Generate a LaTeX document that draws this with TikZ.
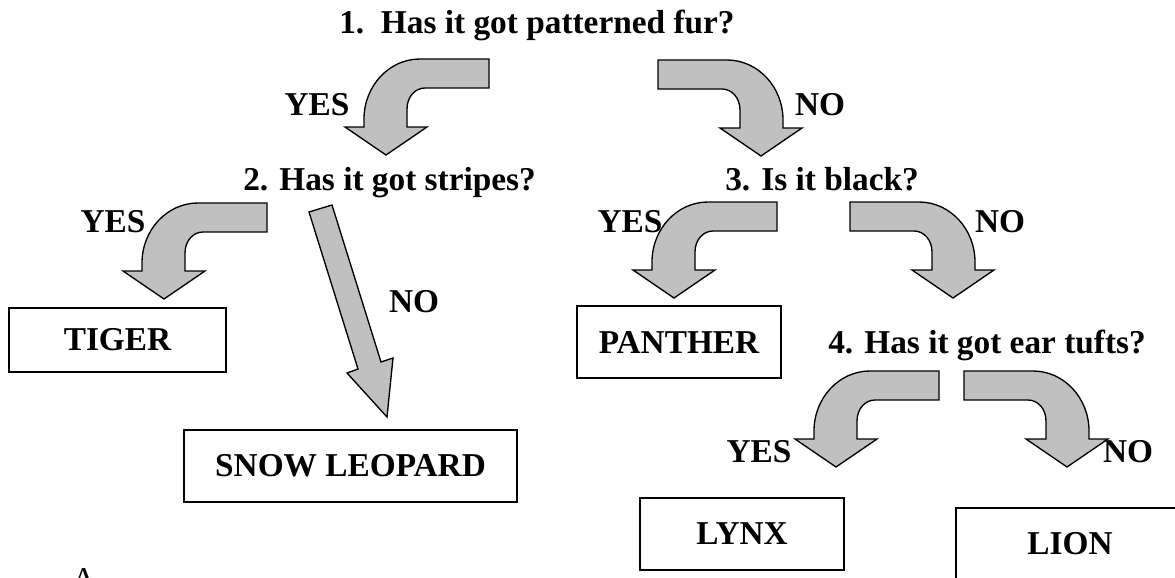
\documentclass[tikz,border=0pt]{standalone}
\usepackage{fontspec}
\setmainfont{Liberation Serif}
\definecolor{arrowgray}{RGB}{192,192,192}
\def\pxu{0.75pt}

\begin{document}
\begin{tikzpicture}[x=0.75pt,y=0.75pt,yscale=-1,xscale=1,
    txt/.style={font=\fontsize{25}{30}\selectfont\bfseries, inner sep=0pt},
    animal/.style={draw, line width=1.2pt, inner sep=0pt, font=\fontsize{25}{30}\selectfont\bfseries},
    blockarrow/.style={draw, line width=1pt, fill=arrowgray, line join=miter},
    yesarrow/.pic={
        \path[blockarrow] (103,96) -- (34,96) .. controls (3,96) and (-22,69) .. (-22,36) -- (-22,28) -- (-41,28) -- (0,0) -- (41,28) -- (21,28) -- (21,46) .. controls (21,58) and (29,67) .. (39,67) -- (103,67) -- cycle;
    }]
    \useasboundingbox (0,0) rectangle (1175,578);
    \clip (0,0) rectangle (1175,578);

    % questions
    \node[txt, anchor=base west] (q1) at (339,33) {1.\ \ Has it got patterned fur?};
    \node[txt, anchor=base west] (q2) at (243,190) {2. Has it got stripes?};
    \node[txt, anchor=base west] (q3) at (725,190) {3. Is it black?};
    \node[txt, anchor=base west] (q4) at (828,353) {4. Has it got ear tufts?};

    % bent arrows
    \pic at (386,155) {yesarrow};
    \pic[xscale=-1] at (761,156) {yesarrow};
    \pic at (164,299) {yesarrow};
    \pic at (674,298) {yesarrow};
    \pic[xscale=-1] at (953,298) {yesarrow};
    \pic at (836,467) {yesarrow};
    \pic[xscale=-1] at (1067,467) {yesarrow};
    % straight arrow
    \path[blockarrow] (309,212) -- (332,205) -- (381,362) -- (393,358) -- (387,417) -- (347,373) -- (358,369) -- cycle;

    % answers
    \node[txt, anchor=base] (yes1) at (317,115) {YES};
    \node[txt, anchor=base] (no1) at (820,115) {NO};
    \node[txt, anchor=base] (yes2) at (113,232) {YES};
    \node[txt, anchor=base] (no2) at (414,312) {NO};
    \node[txt, anchor=base] (yes3) at (630,232) {YES};
    \node[txt, anchor=base] (no3) at (1000,232) {NO};
    \node[txt, anchor=base] (yes4) at (759,462) {YES};
    \node[txt, anchor=base] (no4) at (1128,462) {NO};

    % animals
    \node[animal, minimum width=217*\pxu, minimum height=64*\pxu] (tiger) at (117.5,340) {TIGER};
    \node[animal, minimum width=333*\pxu, minimum height=72*\pxu] (snow) at (350.5,466) {SNOW LEOPARD};
    \node[animal, minimum width=204*\pxu, minimum height=72*\pxu] (panther) at (679,342) {PANTHER};
    \node[animal, minimum width=204*\pxu, minimum height=72*\pxu] (lynx) at (742,534) {LYNX};
    \node[animal, minimum width=228*\pxu, minimum height=72*\pxu] (lion) at (1070,544) {LION};

    \node[font=\fontsize{25}{30}\selectfont, anchor=north, inner sep=0pt] (stray) at (84,568) {A};
\end{tikzpicture}
\end{document}
